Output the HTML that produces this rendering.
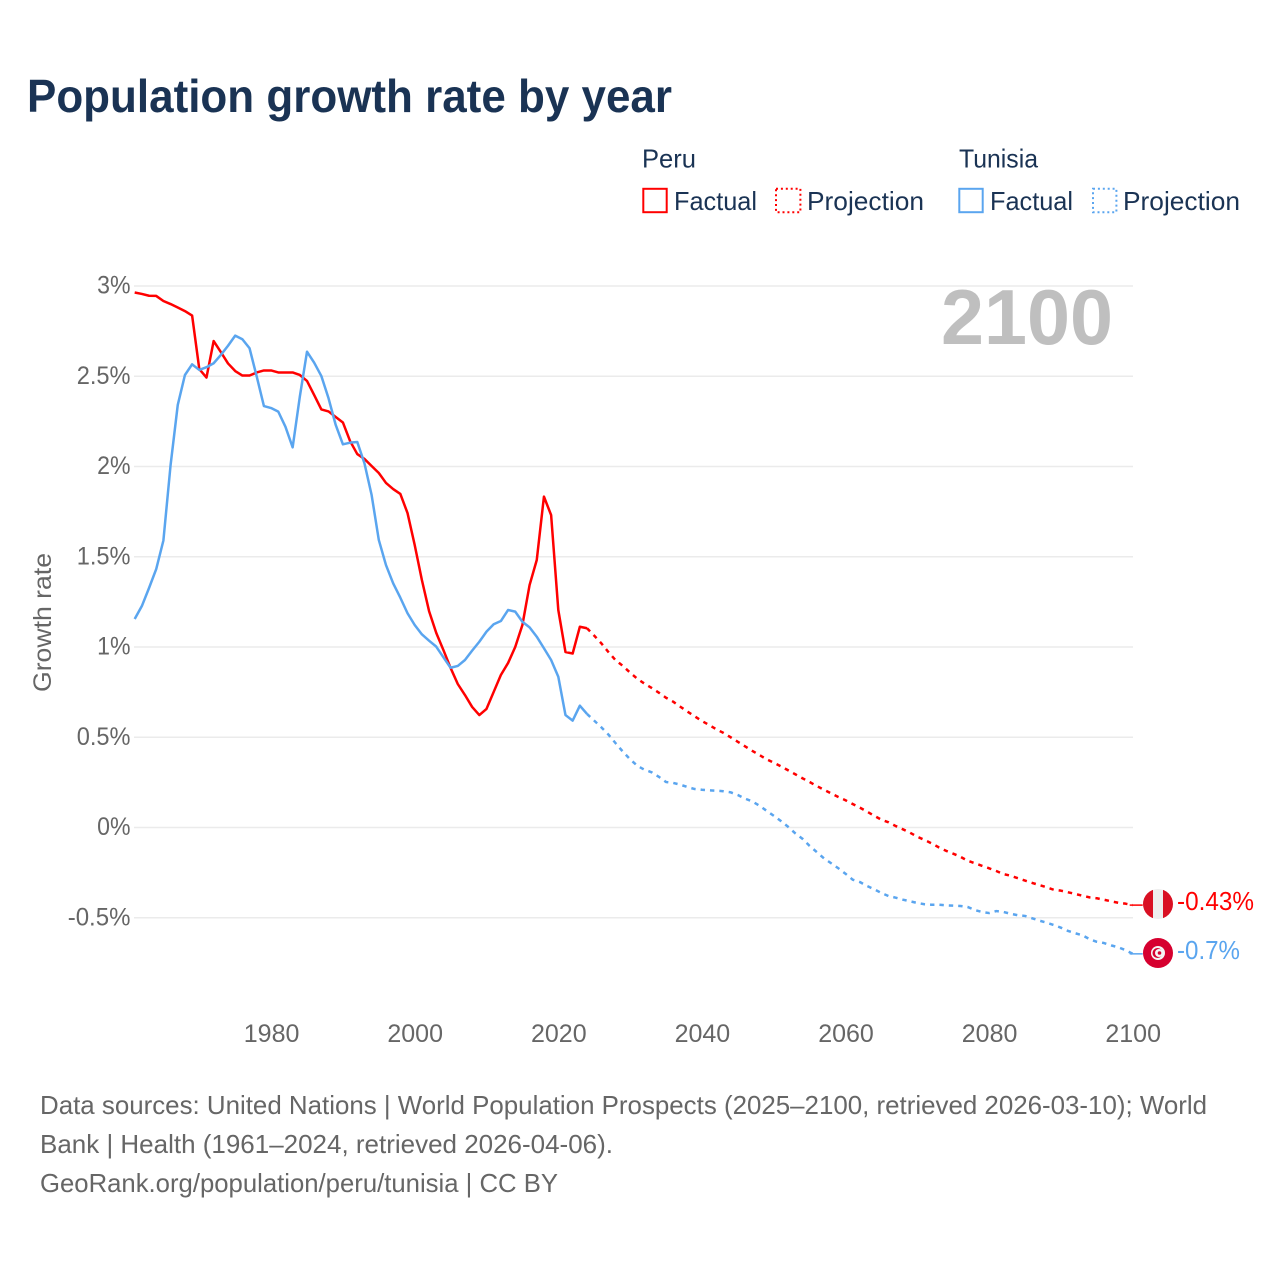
<!DOCTYPE html>
<html lang="en">
<head>
<meta charset="utf-8">
<title>Population growth rate by year</title>
<style>
html,body{margin:0;padding:0;background:#fff;width:1280px;height:1280px;overflow:hidden}
svg{display:block}
text{font-family:"Liberation Sans",sans-serif}
</style>
</head>
<body>
<svg id="chart" xmlns="http://www.w3.org/2000/svg" width="1280" height="1280" viewBox="0 0 1280 1280">
  <rect width="1280" height="1280" fill="#fff"/>
  <text x="27" y="112" font-size="46" font-weight="700" fill="#1a3354" textLength="645" lengthAdjust="spacingAndGlyphs">Population growth rate by year</text>

  <g font-size="26" fill="#1a3354">
    <text x="642" y="167.5" textLength="54" lengthAdjust="spacingAndGlyphs">Peru</text>
    <text x="959" y="167.5" textLength="79" lengthAdjust="spacingAndGlyphs">Tunisia</text>
    <g>
      <rect x="643.3" y="188.8" width="23.4" height="23.4" fill="none" stroke="#ff0000" stroke-width="2"/>
      <text x="674" y="210" textLength="83" lengthAdjust="spacingAndGlyphs">Factual</text>
    </g>
    <g>
      <rect x="776" y="188.8" width="24.4" height="23.4" fill="none" stroke="#ff0000" stroke-width="2" stroke-dasharray="2 2.9"/>
      <text x="807" y="210" textLength="117" lengthAdjust="spacingAndGlyphs">Projection</text>
    </g>
    <g>
      <rect x="959.3" y="188.8" width="23.4" height="23.4" fill="none" stroke="#5aa5ef" stroke-width="2"/>
      <text x="990" y="210" textLength="83" lengthAdjust="spacingAndGlyphs">Factual</text>
    </g>
    <g>
      <rect x="1093" y="188.8" width="23.4" height="23.4" fill="none" stroke="#5aa5ef" stroke-width="2" stroke-dasharray="2 2.9"/>
      <text x="1123" y="210" textLength="117" lengthAdjust="spacingAndGlyphs">Projection</text>
    </g>
  </g>

  <g id="grid"></g>
  <g id="yticks" font-size="25" fill="#666" text-anchor="end"></g>
  <g id="xticks" font-size="25" fill="#666" text-anchor="middle"></g>
  <text transform="translate(51 692) rotate(-90)" font-size="25" fill="#666" textLength="139" lengthAdjust="spacingAndGlyphs">Growth rate</text>
  <text x="941" y="344" font-size="78" font-weight="700" fill="#bfbfbf" textLength="172" lengthAdjust="spacingAndGlyphs">2100</text>

  <g id="series" fill="none" stroke-width="2.5" stroke-linejoin="round"></g>

  <g>
    <clipPath id="peru-clip"><circle cx="1158" cy="904" r="15"/></clipPath>
    <g clip-path="url(#peru-clip)">
      <rect x="1143" y="889" width="10" height="30" fill="#d91023"/>
      <rect x="1153" y="889" width="10" height="30" fill="#eeeeee"/>
      <rect x="1163" y="889" width="10" height="30" fill="#d91023"/>
    </g>
  </g>
  <g>
    <circle cx="1158" cy="953" r="15" fill="#d6002f"/>
    <circle cx="1158" cy="953" r="7" fill="#f4f4f4"/>
    <circle cx="1157.5" cy="953" r="5" fill="#d6002f"/>
    <circle cx="1159" cy="953" r="4" fill="#f4f4f4"/>
    <circle cx="1159.5" cy="953" r="1.8" fill="#d6002f"/>
  </g>
  <text x="1177" y="910" font-size="25.5" fill="#ff0000" textLength="77" lengthAdjust="spacingAndGlyphs">-0.43%</text>
  <text x="1177" y="959" font-size="25.5" fill="#5aa5ef" textLength="63" lengthAdjust="spacingAndGlyphs">-0.7%</text>

  <g font-size="26" fill="#666">
    <text x="40" y="1114" textLength="1167" lengthAdjust="spacingAndGlyphs">Data sources: United Nations | World Population Prospects (2025–2100, retrieved 2026-03-10); World</text>
    <text x="40" y="1153" textLength="573" lengthAdjust="spacingAndGlyphs">Bank | Health (1961–2024, retrieved 2026-04-06).</text>
    <text x="40" y="1192" textLength="518" lengthAdjust="spacingAndGlyphs">GeoRank.org/population/peru/tunisia | CC BY</text>
  </g>
</svg>
<script>
const yTickValues = [3, 2.5, 2, 1.5, 1, 0.5, 0, -0.5];
const yTickLabels = ["3%", "2.5%", "2%", "1.5%", "1%", "0.5%", "0%", "-0.5%"];
const xTickYears = [1980, 2000, 2020, 2040, 2060, 2080, 2100];
const factualStartYear = 1961;
const projectionStartYear = 2025;

const peruFactual = [
  2.964, 2.956, 2.946, 2.945, 2.917, 2.900, 2.881, 2.861, 2.836, 2.540,
  2.493, 2.695, 2.634, 2.571, 2.529, 2.504, 2.504, 2.521, 2.532, 2.532,
  2.521, 2.521, 2.521, 2.507, 2.474, 2.396, 2.316, 2.305, 2.274, 2.244,
  2.141, 2.069, 2.042, 2.003, 1.964, 1.909, 1.875, 1.848, 1.742, 1.565,
  1.371, 1.199, 1.078, 0.983, 0.884, 0.795, 0.734, 0.668, 0.623, 0.657,
  0.751, 0.845, 0.911, 1.000, 1.122, 1.343, 1.482, 1.833, 1.731, 1.205,
  0.972, 0.964, 1.112, 1.104
];
const peruProjection = [
  1.063, 1.020, 0.971, 0.926, 0.895, 0.858, 0.824, 0.797, 0.773, 0.747,
  0.719, 0.697, 0.669, 0.642, 0.616, 0.590, 0.568, 0.544, 0.524, 0.500,
  0.475, 0.450, 0.425, 0.402, 0.378, 0.359, 0.339, 0.317, 0.295, 0.273,
  0.252, 0.230, 0.209, 0.189, 0.169, 0.151, 0.130, 0.110, 0.088, 0.065,
  0.043, 0.029, 0.008, -0.010, -0.029, -0.051, -0.069, -0.088, -0.110, -0.129,
  -0.145, -0.162, -0.184, -0.198, -0.212, -0.226, -0.241, -0.258, -0.267, -0.281,
  -0.294, -0.307, -0.319, -0.331, -0.345, -0.350, -0.359, -0.368, -0.378, -0.387,
  -0.392, -0.400, -0.409, -0.417, -0.422, -0.430
];
const tunisiaFactual = [
  1.155, 1.227, 1.327, 1.432, 1.590, 2.008, 2.341, 2.507, 2.566, 2.535,
  2.550, 2.572, 2.618, 2.669, 2.725, 2.705, 2.655, 2.498, 2.335, 2.324,
  2.304, 2.220, 2.106, 2.387, 2.636, 2.575, 2.501, 2.378, 2.230, 2.123,
  2.132, 2.136, 2.018, 1.842, 1.593, 1.454, 1.353, 1.273, 1.187, 1.122,
  1.070, 1.035, 1.002, 0.943, 0.885, 0.895, 0.928, 0.980, 1.029, 1.085,
  1.126, 1.144, 1.205, 1.196, 1.140, 1.109, 1.057, 0.993, 0.928, 0.835,
  0.623, 0.592, 0.675, 0.629
];
const tunisiaProjection = [
  0.592, 0.555, 0.514, 0.466, 0.420, 0.378, 0.342, 0.320, 0.306, 0.281,
  0.252, 0.247, 0.237, 0.224, 0.213, 0.209, 0.206, 0.204, 0.201, 0.195,
  0.180, 0.160, 0.145, 0.121, 0.093, 0.065, 0.036, 0.004, -0.032, -0.062,
  -0.102, -0.136, -0.171, -0.198, -0.226, -0.256, -0.289, -0.302, -0.324, -0.342,
  -0.363, -0.380, -0.389, -0.400, -0.409, -0.418, -0.425, -0.428, -0.428, -0.431,
  -0.433, -0.435, -0.440, -0.457, -0.468, -0.474, -0.463, -0.468, -0.478, -0.486,
  -0.490, -0.503, -0.516, -0.527, -0.540, -0.555, -0.573, -0.586, -0.597, -0.619,
  -0.633, -0.640, -0.653, -0.664, -0.679, -0.700
];

const SVG_NS = "http://www.w3.org/2000/svg";
const xScale = year => 271.1 + (year - 1980) * 7.18;
const yScale = value => 827.5 - value * 180.5;

const grid = document.getElementById("grid");
const yticks = document.getElementById("yticks");
const xticks = document.getElementById("xticks");
const seriesGroup = document.getElementById("series");

function tickLabelWidth(label) {
  let width = 0;
  for (const ch of label) {
    if (ch === ".") width += 6.5;
    else if (ch === "-") width += 9;
    else if (ch === "%") width += 19.5;
    else width += 13.9;
  }
  return width;
}

yTickValues.forEach((value, i) => {
  const line = document.createElementNS(SVG_NS, "line");
  
  
  line.setAttribute("x1", 134);
  line.setAttribute("x2", 1133);
  line.setAttribute("y1", yScale(value));
  line.setAttribute("y2", yScale(value));
  line.setAttribute("stroke", "#ebebeb");
  line.setAttribute("stroke-width", 1.5);
  grid.appendChild(line);

  const label = document.createElementNS(SVG_NS, "text");
  
  
  label.setAttribute("x", 130.5);
  label.setAttribute("y", yScale(value) + 7.5);
  label.setAttribute("textLength", tickLabelWidth(yTickLabels[i]));
  label.setAttribute("lengthAdjust", "spacingAndGlyphs");
  label.textContent = yTickLabels[i];
  yticks.appendChild(label);
});

xTickYears.forEach(year => {
  const label = document.createElementNS(SVG_NS, "text");
  
  
  label.setAttribute("x", xScale(year) + 0.5);
  label.setAttribute("y", 1042);
  label.textContent = year;
  xticks.appendChild(label);
});

function linePath(values, startYear) {
  return values.map((v, i) => (i ? "L" : "M") + xScale(startYear + i).toFixed(2) + " " + yScale(v).toFixed(2)).join(" ");
}

function drawSeries(factual, projection, color, key) {
  const solid = document.createElementNS(SVG_NS, "path");
  
  
  solid.setAttribute("id", key + "-factual");
  solid.setAttribute("d", linePath(factual, factualStartYear));
  solid.setAttribute("stroke", color);
  seriesGroup.appendChild(solid);

  const lastFactual = factual[factual.length - 1];
  const dashed = document.createElementNS(SVG_NS, "path");
  
  
  dashed.setAttribute("id", key + "-projection");
  dashed.setAttribute("d", linePath([lastFactual].concat(projection), projectionStartYear - 1));
  dashed.setAttribute("stroke", color);
  dashed.setAttribute("stroke-dasharray", "4.4 5");
  seriesGroup.appendChild(dashed);

  const endValue = projection[projection.length - 1];
  const connector = document.createElementNS(SVG_NS, "line");
  
  
  connector.setAttribute("x1", xScale(2100) - 3);
  connector.setAttribute("x2", xScale(2100) + 10);
  connector.setAttribute("y1", yScale(endValue));
  connector.setAttribute("y2", yScale(endValue));
  connector.setAttribute("stroke", color);
  connector.setAttribute("stroke-width", 1.5);
  seriesGroup.appendChild(connector);
}

drawSeries(peruFactual, peruProjection, "#ff0000", "peru");
drawSeries(tunisiaFactual, tunisiaProjection, "#5aa5ef", "tunisia");
</script>
</body>
</html>
